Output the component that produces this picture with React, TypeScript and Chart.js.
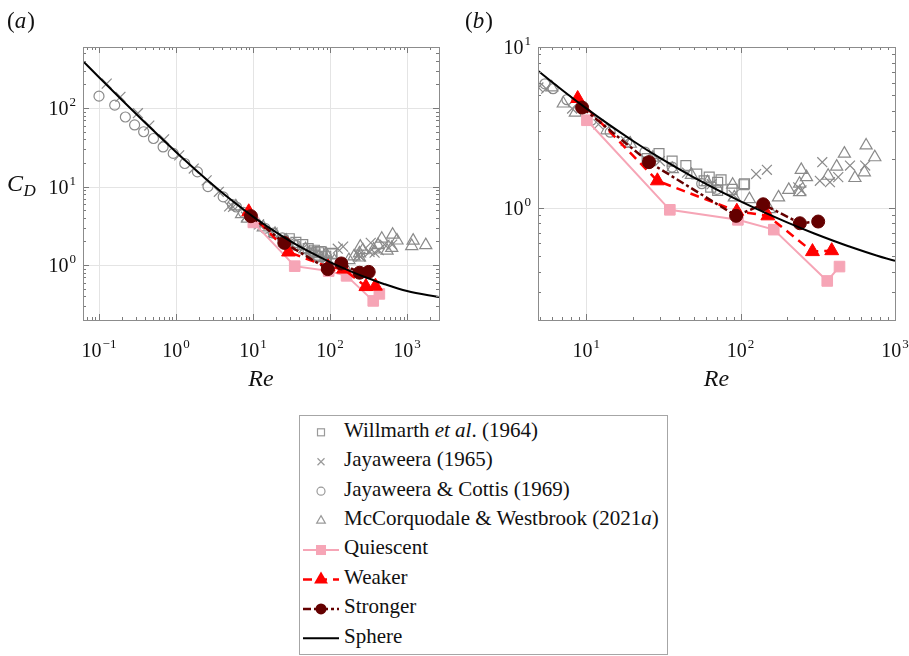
import React, { useEffect, useRef } from 'react';
import { Chart, registerables } from 'chart.js';

Chart.register(...registerables);

const SERIF = '"Liberation Serif", Tinos, "Times New Roman", serif';

// Willmarth et al. (1964)
const willmarthRe = [24.8, 29.6, 36, 44.2, 52, 58, 62.6, 64, 71, 71, 74.7, 88, 105, 106];
const willmarthCd = [2.02, 2.17, 1.95, 1.83, 1.62, 1.47, 1.55, 1.34, 1.44, 1.28, 1.49, 1.3, 1.39, 1.41];

// Jayaweera (1965)
const jay65Re = [0.126, 0.19, 0.32, 0.45, 0.7, 1.1, 1.7, 2.5, 3.6, 4.9, 5.5, 8.1, 12, 18, 30, 45, 65, 90, 126, 148, 236, 248, 326, 338, 379, 429, 511, 641];
const jay65Cd = [205, 139, 86, 60, 40, 25, 17, 12, 8.6, 5.6, 5.5, 4.14, 3.3, 2.6, 1.95, 1.65, 1.4, 1.2, 1.62, 1.72, 1.34, 1.28, 1.47, 1.92, 1.44, 1.55, 1.83, 1.83];

// Jayaweera & Cottis (1969)
const jcRe = [0.1, 0.16, 0.22, 0.29, 0.38, 0.51, 0.68, 0.92, 1.3, 1.9, 2.6, 4.1, 5.4, 6.1, 7.5, 10.8, 14.3, 18.3, 24, 36, 56, 70];
const jcCd = [142, 109, 77, 61, 50, 41, 32, 26.5, 19.7, 15.4, 10, 7.4, 5.9, 5.5, 4.7, 3.5, 2.95, 2.56, 2.22, 1.79, 1.41, 1.3];

// McCorquodale & Westbrook (2021a)
const mwRe = [5.98, 7.1, 8.5, 13.6, 19.3, 27, 36.1, 48, 61, 88.8, 91, 114, 153, 176, 205, 241, 241, 247, 267, 369, 419, 470, 550, 633, 650, 740, 1150, 1200, 1750];
const mwCd = [5.6, 4.45, 3.9, 3.03, 2.5, 2.05, 1.74, 1.6, 1.44, 1.39, 1.16, 1.13, 0.98, 1.16, 1.29, 1.25, 1.41, 1.72, 1.55, 1.58, 1.8, 2.17, 1.53, 1.66, 2.44, 2.06, 1.75, 2.05, 1.8];

// Present cases
const quiescentRe = [10.1, 34.8, 96, 164, 364, 437];
const quiescentCd = [3.5, 0.97, 0.84, 0.73, 0.35, 0.43];
const weakerRe = [8.8, 28.9, 94.5, 150, 292, 389];
const weakerCd = [4.78, 1.47, 0.95, 0.89, 0.533, 0.54];
const strongerRe = [9.4, 25.5, 93.5, 140, 242, 318];
const strongerCd = [4.2, 1.92, 0.89, 1.05, 0.8, 0.82];

// Standard sphere drag curve
const sphereRe = [0.062, 0.1, 0.2, 0.5, 1, 2, 3, 4.8, 10, 20, 30, 50, 100, 200, 300, 500, 1000, 2600];
const sphereCd = [396, 247, 126, 52.5, 27.6, 14.9, 10.55, 7.2, 4.15, 2.61, 2.04, 1.54, 1.094, 0.81, 0.691, 0.576, 0.467, 0.391];

const GRAY = '#8a8a8a';
const PINK = '#f6a5b6';
const RED = '#ff0000';
const MAROON = '#640000';

const pts = (xs: number[], ys: number[]) => xs.map((x, i) => ({ x, y: ys[i] }));

function buildDatasets(): any[] {
  const open = (label: string, xs: number[], ys: number[], style: string, r: number, order: number) => ({
    label,
    data: pts(xs, ys),
    showLine: false,
    pointStyle: style,
    pointRadius: r,
    pointBorderWidth: 1.2,
    pointBorderColor: GRAY,
    pointBackgroundColor: 'rgba(0,0,0,0)',
    order,
  });
  return [
    {
      label: 'Sphere',
      data: pts(sphereRe, sphereCd),
      showLine: true,
      borderColor: '#000',
      borderWidth: 2,
      pointRadius: 0,
      cubicInterpolationMode: 'monotone',
      order: 0,
    },
    {
      label: 'Stronger',
      data: pts(strongerRe, strongerCd),
      showLine: true,
      borderColor: MAROON,
      borderWidth: 2.5,
      borderDash: [8, 3, 3, 3],
      pointStyle: 'circle',
      pointRadius: 6.5,
      pointBorderWidth: 1,
      pointBorderColor: MAROON,
      pointBackgroundColor: MAROON,
      order: 1,
    },
    {
      label: 'Weaker',
      data: pts(weakerRe, weakerCd),
      showLine: true,
      borderColor: RED,
      borderWidth: 2.5,
      borderDash: [9, 6],
      pointStyle: 'triangle',
      pointRadius: 8,
      pointBorderWidth: 1,
      pointBorderColor: RED,
      pointBackgroundColor: RED,
      order: 2,
    },
    {
      label: 'Quiescent',
      data: pts(quiescentRe, quiescentCd),
      showLine: true,
      borderColor: PINK,
      borderWidth: 2,
      pointStyle: 'rect',
      pointRadius: 7.5,
      pointBorderWidth: 1,
      pointBorderColor: PINK,
      pointBackgroundColor: PINK,
      order: 3,
    },
    open('Willmarth et al. (1964)', willmarthRe, willmarthCd, 'rect', 7, 4),
    open('Jayaweera (1965)', jay65Re, jay65Cd, 'crossRot', 7, 5),
    open('Jayaweera & Cottis (1969)', jcRe, jcCd, 'circle', 5, 6),
    open('McCorquodale & Westbrook (2021a)', mwRe, mwCd, 'triangle', 7, 7),
  ];
}

function logTicks(min: number, max: number) {
  const out: { v: number; major: boolean }[] = [];
  const lo = Math.floor(Math.log10(min));
  const hi = Math.ceil(Math.log10(max));
  for (let n = lo; n <= hi; n++) {
    for (let k = 1; k <= 9; k++) {
      const v = k * Math.pow(10, n);
      if (v >= min * 0.999 && v <= max * 1.001) out.push({ v, major: k === 1 });
    }
  }
  return out;
}

function drawPow(ctx: CanvasRenderingContext2D, exp: number, px: number, baseline: number, align: 'center' | 'right') {
  const base = '10';
  const sup = exp < 0 ? '\u2212' + -exp : String(exp);
  ctx.font = `20px ${SERIF}`;
  const wb = ctx.measureText(base).width;
  ctx.font = `13px ${SERIF}`;
  const ws = ctx.measureText(sup).width;
  const w = wb + ws + 1;
  const left = align === 'center' ? px - w / 2 : px - w;
  ctx.textAlign = 'left';
  ctx.textBaseline = 'alphabetic';
  ctx.font = `20px ${SERIF}`;
  ctx.fillText(base, left, baseline);
  ctx.font = `13px ${SERIF}`;
  ctx.fillText(sup, left + wb + 1, baseline - 9);
}

const framePlugin = {
  id: 'frame',
  beforeDatasetsDraw(chart: any) {
    const o = chart.options.plugins.frame;
    const { ctx, chartArea: a } = chart;
    const x = chart.scales.x;
    const y = chart.scales.y;
    ctx.save();
    ctx.strokeStyle = '#e4e4e4';
    ctx.lineWidth = 1;
    for (const e of o.xDec) {
      const px = Math.round(x.getPixelForValue(Math.pow(10, e))) + 0.5;
      ctx.beginPath();
      ctx.moveTo(px, a.top);
      ctx.lineTo(px, a.bottom);
      ctx.stroke();
    }
    for (const e of o.yDec) {
      const py = Math.round(y.getPixelForValue(Math.pow(10, e))) + 0.5;
      ctx.beginPath();
      ctx.moveTo(a.left, py);
      ctx.lineTo(a.right, py);
      ctx.stroke();
    }
    ctx.restore();
  },
  afterDraw(chart: any) {
    const o = chart.options.plugins.frame;
    const { ctx, chartArea: a } = chart;
    const x = chart.scales.x;
    const y = chart.scales.y;
    ctx.save();
    // inward tick marks on all four sides
    ctx.strokeStyle = '#7a7a7a';
    ctx.lineWidth = 1;
    for (const t of logTicks(x.min, x.max)) {
      const px = Math.round(x.getPixelForValue(t.v)) + 0.5;
      const len = t.major ? 6 : 3;
      ctx.beginPath();
      ctx.moveTo(px, a.bottom);
      ctx.lineTo(px, a.bottom - len);
      ctx.moveTo(px, a.top);
      ctx.lineTo(px, a.top + len);
      ctx.stroke();
    }
    for (const t of logTicks(y.min, y.max)) {
      const py = Math.round(y.getPixelForValue(t.v)) + 0.5;
      const len = t.major ? 6 : 3;
      ctx.beginPath();
      ctx.moveTo(a.left, py);
      ctx.lineTo(a.left + len, py);
      ctx.moveTo(a.right, py);
      ctx.lineTo(a.right - len, py);
      ctx.stroke();
    }
    // frame
    ctx.strokeStyle = '#8c8c8c';
    ctx.strokeRect(Math.round(a.left) + 0.5, Math.round(a.top) + 0.5, Math.round(a.right - a.left), Math.round(a.bottom - a.top));

    // tick labels
    ctx.fillStyle = '#111';
    for (const e of o.xDec) {
      drawPow(ctx, e, x.getPixelForValue(Math.pow(10, e)), a.bottom + 37, 'center');
    }
    for (const e of o.yDec) {
      drawPow(ctx, e, a.left - 7, y.getPixelForValue(Math.pow(10, e)) + 7, 'right');
    }

    // axis titles
    ctx.textAlign = 'left';
    ctx.textBaseline = 'alphabetic';
    ctx.font = `italic 24px ${SERIF}`;
    const reW = ctx.measureText('Re').width;
    ctx.fillText('Re', (a.left + a.right) / 2 - reW / 2, a.bottom + 66);
    if (o.yTitle) {
      ctx.font = `italic 24px ${SERIF}`;
      ctx.fillText('C', 7, 191);
      const cw = ctx.measureText('C').width;
      ctx.font = `italic 17px ${SERIF}`;
      ctx.fillText('D', 7 + cw + 0.5, 196);
    }

    // panel tag
    ctx.font = `23px ${SERIF}`;
    ctx.fillText('(', o.tagX, 28);
    const pw = ctx.measureText('(').width;
    ctx.font = `italic 23px ${SERIF}`;
    ctx.fillText(o.tag, o.tagX + pw, 28);
    const lw = ctx.measureText(o.tag).width;
    ctx.font = `23px ${SERIF}`;
    ctx.fillText(')', o.tagX + pw + lw + 1, 28);
    ctx.restore();
  },
};

type PanelProps = {
  left: number;
  width: number;
  pad: { left: number; right: number; top: number; bottom: number };
  xMin: number;
  xMax: number;
  yMin: number;
  yMax: number;
  xDec: number[];
  yDec: number[];
  tag: string;
  tagX: number;
  yTitle: boolean;
};

function Panel(p: PanelProps) {
  const ref = useRef<HTMLCanvasElement | null>(null);
  useEffect(() => {
    if (!ref.current) return;
    const chart = new Chart(ref.current, {
      type: 'scatter',
      data: { datasets: buildDatasets() },
      plugins: [framePlugin],
      options: {
        responsive: false,
        animation: false,
        devicePixelRatio: 1,
        layout: { padding: p.pad },
        scales: {
          x: { type: 'logarithmic', min: p.xMin, max: p.xMax, display: false },
          y: { type: 'logarithmic', min: p.yMin, max: p.yMax, display: false },
        },
        plugins: {
          legend: { display: false },
          tooltip: { enabled: false },
          frame: { xDec: p.xDec, yDec: p.yDec, tag: p.tag, tagX: p.tagX, yTitle: p.yTitle },
        } as any,
      },
    } as any);
    return () => chart.destroy();
  }, []);
  return (
    <canvas
      ref={ref}
      width={p.width}
      height={400}
      style={{ position: 'absolute', left: p.left, top: 0, width: p.width, height: 400 }}
    />
  );
}

const legendLabels: React.ReactNode[] = [
  <>Willmarth <i>et al</i>. (1964)</>,
  <>Jayaweera (1965)</>,
  <>Jayaweera &amp; Cottis (1969)</>,
  <>McCorquodale &amp; Westbrook (2021<i>a</i>)</>,
  <>Quiescent</>,
  <>Weaker</>,
  <>Stronger</>,
  <>Sphere</>,
];

function LegendIcon({ i, cy }: { i: number; cy: number }) {
  const cx = 21;
  const g = '#9a9a9a';
  const tri = (r: number) =>
    `${cx},${cy - r} ${cx + r * 0.866},${cy + r * 0.5} ${cx - r * 0.866},${cy + r * 0.5}`;
  switch (i) {
    case 0:
      return <rect x={cx - 3.5} y={cy - 3.5} width={7} height={7} fill="none" stroke={g} strokeWidth={1.2} />;
    case 1:
      return (
        <path d={`M${cx - 3.5},${cy - 3.5}L${cx + 3.5},${cy + 3.5}M${cx + 3.5},${cy - 3.5}L${cx - 3.5},${cy + 3.5}`} stroke={g} strokeWidth={1.2} />
      );
    case 2:
      return <circle cx={cx} cy={cy} r={4} fill="none" stroke={g} strokeWidth={1.2} />;
    case 3:
      return <polygon points={tri(5)} fill="none" stroke={g} strokeWidth={1.2} />;
    case 4:
      return (
        <g>
          <line x1={3} x2={39} y1={cy} y2={cy} stroke={PINK} strokeWidth={2} />
          <rect x={cx - 5} y={cy - 5} width={10} height={10} fill={PINK} />
        </g>
      );
    case 5:
      return (
        <g>
          <line x1={3} x2={39} y1={cy} y2={cy} stroke={RED} strokeWidth={2.5} strokeDasharray="9 6" />
          <polygon points={tri(8)} fill={RED} />
        </g>
      );
    case 6:
      return (
        <g>
          <line x1={3} x2={39} y1={cy} y2={cy} stroke={MAROON} strokeWidth={2.5} strokeDasharray="8 3 3 3" />
          <circle cx={cx} cy={cy} r={5.5} fill={MAROON} />
        </g>
      );
    default:
      return <line x1={3} x2={39} y1={cy} y2={cy} stroke="#000" strokeWidth={2} />;
  }
}

function Legend() {
  const top = 415;
  const step = 29.43;
  const firstBaseline = 437.3;
  return (
    <div
      style={{
        position: 'absolute',
        left: 299,
        top,
        width: 369,
        height: 240,
        border: '1px solid #a6a6a6',
        boxSizing: 'border-box',
        background: '#fff',
      }}
    >
      <svg width={60} height={238} style={{ position: 'absolute', left: 0, top: 0 }}>
        {legendLabels.map((_, i) => (
          <LegendIcon key={i} i={i} cy={firstBaseline + i * step - 5 - top - 1} />
        ))}
      </svg>
      {legendLabels.map((lab, i) => (
        <div
          key={i}
          style={{
            position: 'absolute',
            left: 44,
            top: firstBaseline + i * step - 19.6 - top - 1,
            fontFamily: SERIF,
            fontSize: 21,
            lineHeight: '25px',
            color: '#111',
            whiteSpace: 'nowrap',
          }}
        >
          {lab}
        </div>
      ))}
    </div>
  );
}

export default function App() {
  return (
    <div style={{ position: 'absolute', left: 0, top: 0, width: 909, height: 656, background: '#fff', overflow: 'hidden' }}>
      <Panel
        left={0}
        width={455}
        pad={{ left: 83, right: 16, top: 47, bottom: 80 }}
        xMin={0.062}
        xMax={2600}
        yMin={0.2}
        yMax={600}
        xDec={[-1, 0, 1, 2, 3]}
        yDec={[0, 1, 2]}
        tag="a"
        tagX={7}
        yTitle={true}
      />
      <Panel
        left={455}
        width={454}
        pad={{ left: 83, right: 14, top: 47, bottom: 80 }}
        xMin={4.87}
        xMax={1000}
        yMin={0.2}
        yMax={10}
        xDec={[1, 2, 3]}
        yDec={[0, 1]}
        tag="b"
        tagX={10}
        yTitle={false}
      />
      <Legend />
    </div>
  );
}
